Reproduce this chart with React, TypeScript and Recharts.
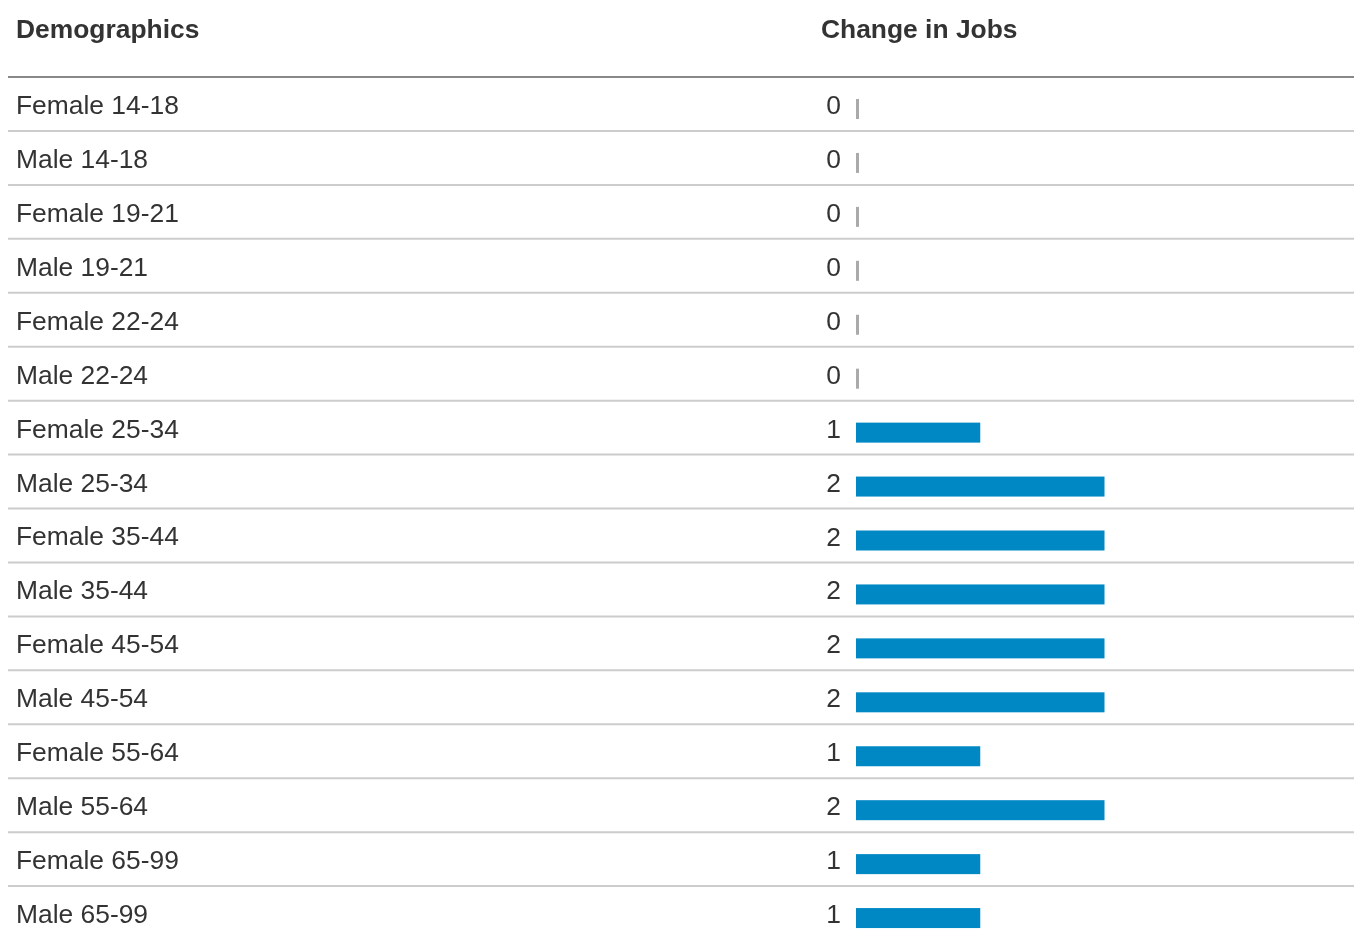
import { BarChart, Bar, XAxis, YAxis, LabelList } from 'recharts';

const categories = [
  'Female 14-18',
  'Male 14-18',
  'Female 19-21',
  'Male 19-21',
  'Female 22-24',
  'Male 22-24',
  'Female 25-34',
  'Male 25-34',
  'Female 35-44',
  'Male 35-44',
  'Female 45-54',
  'Male 45-54',
  'Female 55-64',
  'Male 55-64',
  'Female 65-99',
  'Male 65-99',
];

const changeInJobs = [0, 0, 0, 0, 0, 0, 1, 2, 2, 2, 2, 2, 1, 2, 1, 1];

const headers = ['Demographics', 'Change in Jobs'];

const data = categories.map((name, i) => ({ name, value: changeInJobs[i] }));

const WIDTH = 1346;
const TOP = 69;
const PLOT_H = 863;
const BAND = PLOT_H / categories.length;
const FONT = '"Liberation Sans", Arial, sans-serif';
const FS = 26.4;
const TEXT = '#333333';
const BLUE = '#0088c4';

const RowTick = (props: any) => {
  const { y, payload } = props;
  const bottom = y + BAND / 2;
  return (
    <g>
      <text x={8} y={y + 10} fontSize={FS} fill={TEXT} fontFamily={FONT}>
        {payload.value}
      </text>
      <line x1={0} x2={WIDTH} y1={bottom} y2={bottom} stroke="#cccccc" strokeWidth={2} />
    </g>
  );
};

const BarShape = (props: any) => {
  const { x, y, width, height } = props;
  if (!width || width <= 0) {
    return <rect x={x} y={y + 5} width={3} height={height} fill="#aaaaaa" />;
  }
  return <rect x={x} y={y + 5} width={width} height={height} fill={BLUE} />;
};

const ValueLabel = (props: any) => {
  const { x, y, height, value } = props;
  return (
    <text
      x={x - 15}
      y={y + height / 2 + 10}
      textAnchor="end"
      fontSize={FS}
      fill={TEXT}
      fontFamily={FONT}
    >
      {value}
    </text>
  );
};

export default function App() {
  // fixed so the table can run past the bottom edge without a scrollbar
  return (
    <div style={{ position: 'fixed', left: 8, top: 8, width: WIDTH, height: TOP + PLOT_H }}>
      <svg
        width={WIDTH}
        height={TOP + 2}
        style={{ position: 'absolute', left: 0, top: 0 }}
      >
        <text x={8} y={30} fontSize={FS} fontWeight="bold" fill={TEXT} fontFamily={FONT}>
          {headers[0]}
        </text>
        <text x={813} y={30} fontSize={FS} fontWeight="bold" fill={TEXT} fontFamily={FONT}>
          {headers[1]}
        </text>
        <line x1={0} x2={WIDTH} y1={TOP} y2={TOP} stroke="#888888" strokeWidth={2} />
      </svg>
      <BarChart
        width={WIDTH}
        height={TOP + PLOT_H}
        data={data}
        layout="vertical"
        margin={{ top: TOP, right: 1, bottom: 0, left: 0 }}
        barSize={20}
      >
        <XAxis type="number" domain={[0, 4]} hide />
        <YAxis
          type="category"
          dataKey="name"
          width={848}
          axisLine={false}
          tickLine={false}
          tick={<RowTick />}
          interval={0}
        />
        <Bar dataKey="value" shape={<BarShape />} isAnimationActive={false}>
          <LabelList dataKey="value" content={<ValueLabel />} />
        </Bar>
      </BarChart>
    </div>
  );
}
